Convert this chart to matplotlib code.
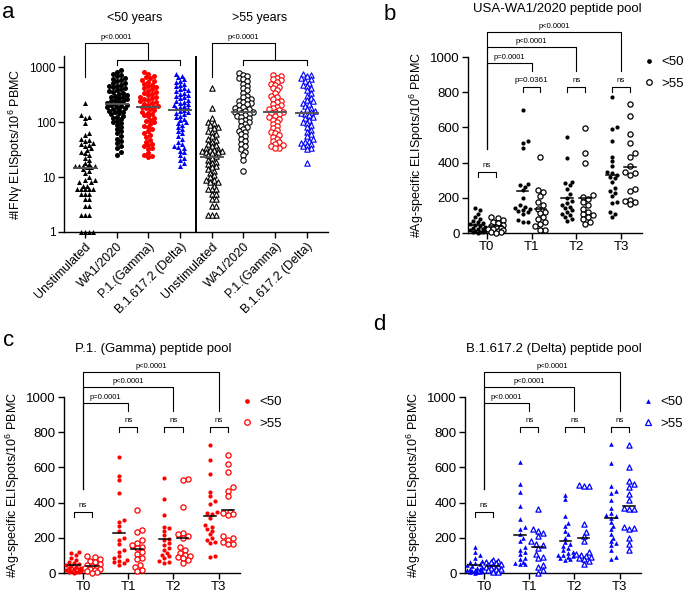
import numpy as np
import matplotlib
matplotlib.use("Agg")
import matplotlib.pyplot as plt
from matplotlib.lines import Line2D
from matplotlib.ticker import NullLocator

plt.rcParams["font.family"] = ["Liberation Sans", "DejaVu Sans"]
plt.rcParams["mathtext.fontset"] = "custom"
plt.rcParams["mathtext.rm"] = "Liberation Sans"
plt.rcParams["axes.linewidth"] = 1.0

# ---- panel a data (IFNg ELISpots / 10^6 PBMC, log scale) ----
cats_a = ["Unstimulated", "WA1/2020", "P.1.(Gamma)", "B.1.617.2 (Delta)"]
unstim_lt50 = [219, 134, 125, 120, 95, 62, 58, 50, 47, 45, 41, 40, 38, 36, 33, 31, 29, 27, 25, 22,
               20, 18, 17, 16, 16, 16, 16, 15, 15, 14, 13, 12, 10, 9, 9, 8, 8, 7, 7, 6, 6, 6, 6, 6,
               5, 5, 5, 4, 4, 3, 3, 2, 2, 2, 1, 1, 1, 1]
wa_lt50 = [880, 820, 760, 720, 690, 640, 610, 580, 550, 520, 505, 480, 460, 445, 430, 410, 395, 380,
           365, 350, 340, 325, 310, 300, 290, 282, 270, 262, 255, 245, 238, 230, 222, 215, 208, 200,
           195, 190, 186, 180, 174, 168, 160, 155, 150, 143, 138, 130, 124, 118, 112, 105, 100, 94,
           88, 80, 74, 68, 62, 56, 50, 45, 41, 37, 33, 28, 25]
p1_lt50 = [800, 760, 700, 660, 620, 580, 550, 530, 500, 470, 450, 430, 410, 390, 370, 355, 340, 320,
           305, 290, 280, 270, 258, 248, 240, 230, 222, 212, 205, 198, 190, 184, 178, 170, 162, 155,
           148, 140, 133, 126, 118, 110, 104, 98, 92, 86, 80, 74, 68, 62, 58, 54, 48, 44, 40, 38, 36,
           34, 32, 27, 25, 24, 23]
delta_lt50 = [760, 700, 650, 600, 560, 530, 500, 470, 450, 420, 400, 380, 360, 340, 325, 310, 295,
              280, 268, 255, 245, 235, 225, 215, 205, 198, 190, 183, 176, 168, 160, 152, 145, 138,
              130, 122, 115, 108, 100, 94, 88, 80, 74, 68, 62, 56, 50, 44, 40, 37, 35, 33, 30, 28,
              25, 22, 20, 18, 16]
unstim_gt55 = [410, 177, 116, 101, 95, 88, 80, 77, 70, 67, 60, 55, 50, 47, 44, 40, 38, 36, 34, 32,
               31, 31, 30, 30, 29, 28, 27, 25, 24, 22, 20, 19, 18, 17, 16, 15, 14, 13, 12, 11, 10,
               9, 9, 8, 8, 7, 6, 6, 6, 5, 5, 4, 4, 3, 3, 2, 2, 2]
wa_gt55 = [780, 720, 680, 640, 600, 560, 500, 460, 420, 380, 340, 300, 280, 260, 250, 240, 230, 220,
           210, 200, 190, 180, 175, 168, 160, 155, 150, 145, 140, 134, 128, 122, 116, 110, 104, 98,
           92, 86, 80, 75, 70, 65, 60, 55, 50, 45, 40, 36, 32, 29, 25, 20, 13]
p1_gt55 = [720, 680, 640, 600, 570, 540, 500, 470, 440, 410, 380, 330, 300, 280, 260, 245, 230, 215,
           200, 190, 180, 170, 162, 155, 150, 145, 138, 130, 122, 115, 108, 100, 92, 85, 78, 72, 66,
           62, 58, 54, 50, 46, 43, 40, 38, 36, 34, 33]
delta_gt55 = [760, 720, 680, 640, 600, 560, 520, 480, 450, 420, 380, 340, 300, 275, 255, 240, 225,
              210, 195, 182, 170, 160, 152, 146, 140, 132, 125, 118, 110, 102, 95, 88, 80, 72, 66,
              60, 55, 50, 46, 44, 42, 40, 38, 36, 34, 32, 18]

# ---- panels b-d data (Ag-specific ELISpots / 10^6 PBMC) ----
times = ["T0", "T1", "T2", "T3"]
wa_t_lt50 = [
    [140, 130, 110, 90, 80, 70, 60, 55, 50, 45, 40, 35, 30, 25, 20, 15, 12, 10, 8, 5, 3, 2],
    [697, 520, 511, 485, 281, 270, 262, 243, 200, 158, 150, 140, 135, 130, 125, 120, 110, 72, 65, 60],
    [545, 425, 290, 285, 270, 250, 220, 200, 180, 170, 160, 150, 140, 130, 120, 110, 100, 90, 80, 70],
    [771, 600, 590, 524, 434, 410, 380, 345, 339, 330, 320, 310, 290, 253, 240, 230, 210, 177, 170,
     120, 110, 91],
]
wa_t_gt55 = [
    [90, 85, 75, 65, 55, 45, 40, 35, 30, 25, 20, 15, 10, 5, 3, 2],
    [433, 243, 234, 209, 177, 158, 139, 120, 115, 91, 80, 63, 53, 38, 19, 15],
    [596, 453, 396, 215, 205, 196, 177, 160, 139, 120, 110, 100, 91, 80, 63, 53],
    [735, 667, 564, 510, 453, 430, 380, 349, 340, 330, 250, 240, 190, 180, 175, 164],
]
p1_t_lt50 = [
    [120, 115, 100, 85, 75, 65, 55, 50, 45, 40, 35, 30, 28, 25, 20, 15, 12, 10, 8, 5, 3, 2],
    [661, 552, 528, 455, 299, 288, 265, 240, 200, 190, 162, 128, 120, 95, 86, 75, 70, 62, 57, 48],
    [539, 423, 328, 261, 253, 238, 215, 194, 190, 171, 160, 143, 133, 114, 105, 95, 86, 67, 57, 60],
    [730, 642, 562, 461, 438, 410, 394, 349, 340, 333, 314, 270, 261, 250, 238, 220, 200, 190, 177,
     170, 95, 90],
]
p1_t_gt55 = [
    [95, 90, 80, 70, 60, 50, 45, 40, 35, 30, 25, 20, 15, 10, 5, 2],
    [356, 242, 232, 185, 170, 158, 150, 143, 120, 110, 86, 80, 48, 36, 19, 10],
    [535, 530, 375, 225, 219, 210, 200, 147, 133, 114, 100, 95, 90, 86, 75, 57],
    [672, 619, 575, 486, 467, 438, 345, 340, 333, 330, 213, 200, 190, 175, 165, 162],
]
de_t_lt50 = [
    [147, 120, 100, 85, 70, 60, 55, 50, 45, 40, 35, 30, 25, 20, 18, 15, 12, 10, 8, 5, 3, 2],
    [629, 505, 461, 379, 309, 261, 248, 219, 200, 180, 147, 133, 120, 110, 86, 80, 60, 55, 51, 50],
    [444, 421, 324, 286, 267, 238, 219, 200, 177, 162, 152, 143, 128, 120, 114, 105, 100, 95, 90, 86,
     82, 76],
    [733, 623, 495, 467, 457, 415, 368, 343, 330, 324, 314, 290, 267, 248, 219, 200, 181, 170, 158,
     133, 90, 80],
]
de_t_gt55 = [
    [75, 70, 65, 60, 55, 50, 45, 40, 38, 35, 30, 25, 20, 15, 8, 3],
    [364, 248, 238, 228, 210, 181, 166, 158, 140, 110, 90, 86, 48, 32, 19, 2],
    [500, 497, 493, 276, 234, 210, 181, 120, 110, 100, 95, 90, 85, 80, 67, 51],
    [730, 604, 520, 505, 490, 451, 413, 370, 365, 362, 261, 255, 250, 200, 162, 128],
]
pvals_b = ["p=0.0001", "p<0.0001", "p<0.0001"]
pvals_c = ["p=0.0001", "p<0.0001", "p<0.0001"]
pvals_d = ["p<0.0001", "p<0.0001", "p<0.0001"]
pair_b = ["ns", "p=0.0361", "ns", "ns"]
pair_c = ["ns", "ns", "ns", "ns"]
pair_d = ["ns", "ns", "ns", "ns"]

W, H = 685, 593
fig = plt.figure(figsize=(W / 100, H / 100), dpi=100)


def box(l, t, r, b):
    return [l / W, 1 - b / H, (r - l) / W, (b - t) / H]


def swarm(ax, x0, vals, d, step, wmax):
    # beeswarm in pixel space, spread limited to +-wmax px (overlap allowed past that)
    vals = np.asarray(vals, float)
    pix = ax.transData.transform(np.column_stack([np.full(len(vals), x0), vals]))
    cx = pix[0, 0]
    placed = []
    out = np.zeros(len(vals))
    for i in np.argsort(vals):
        y = pix[i, 1]
        best, best_d = 0.0, -1.0
        k = 0
        while True:
            off = ((k + 1) // 2) * step * (1 if k % 2 else -1)
            if abs(off) > wmax:
                off = best
                break
            md = min([np.hypot(px - cx - off, py - y) for px, py in placed], default=1e9)
            if md >= d:
                break
            if md > best_d:
                best, best_d = off, md
            k += 1
        placed.append((cx + off, y))
        out[i] = cx + off
    return ax.transData.inverted().transform(np.column_stack([out, pix[:, 1]]))[:, 0]


def style(ax):
    for s in ["top", "right"]:
        ax.spines[s].set_visible(False)
    ax.tick_params(width=1.0, length=4, pad=2)


def bracket(ax, pts):
    xs, ys = zip(*pts)
    ax.plot(xs, ys, color="black", lw=0.8, clip_on=False)


# ================= panel a =================
ax = fig.add_axes(box(64, 56, 328, 232))
style(ax)
ax.set_yscale("log")
ax.set_ylim(1, 1585)
ax.set_xlim(-0.66, 7.67)
ax.set_yticks([1, 10, 100, 1000])
ax.set_yticklabels(["1", "10", "100", "1000"], fontsize=8.5)
ax.yaxis.set_minor_locator(NullLocator())
ax.set_xticks(range(8))
ax.set_xticklabels(cats_a * 2, rotation=45, ha="right", rotation_mode="anchor", fontsize=9)
ax.set_ylabel("#IFNγ ELISpots/10$^{6}$ PBMC", fontsize=9, labelpad=3)

groups_a = [
    (unstim_lt50, "^", "black", True), (wa_lt50, "o", "black", True),
    (p1_lt50, "o", "red", True), (delta_lt50, "^", "blue", True),
    (unstim_gt55, "^", "black", False), (wa_gt55, "o", "black", False),
    (p1_gt55, "o", "red", False), (delta_gt55, "^", "blue", False),
]
for i, (v, m, c, filled) in enumerate(groups_a):
    xs = swarm(ax, i, v, 3.8, 2.0, 11)
    if filled:
        ax.scatter(xs, v, marker=m, s=13, color=c, lw=0, clip_on=False, zorder=3)
    else:
        ax.scatter(xs, v, marker=m, s=15, facecolor="white", edgecolor=c, lw=0.8,
                   clip_on=False, zorder=3)
    med = np.median(v)
    ax.plot([i - 0.35, i + 0.35], [med, med], color="#555555", lw=1.4, zorder=4)

ax.plot([3.5, 3.5], [1, 1585], color="black", lw=1.4)
for g in [0, 4]:
    bracket(ax, [(g, 657), (g, 2730), (g + 2, 2730), (g + 2, 1340)])
    bracket(ax, [(g + 1, 1087), (g + 1, 1340), (g + 3, 1340), (g + 3, 1087)])
    ax.text(g + 1, 2950, "p<0.0001", ha="center", va="bottom", fontsize=5.5)

fig.text(135 / W, 1 - 18 / H, "<50 years", ha="center", va="center", fontsize=9)
fig.text(260 / W, 1 - 18 / H, ">55 years", ha="center", va="center", fontsize=9)


# ================= panels b-d =================
def time_panel(rect, lt, gt, color, filled_marker, title, pv, pair):
    ax = fig.add_axes(box(*rect))
    style(ax)
    ax.set_ylim(0, 1000)
    ax.set_xlim(-0.42, 3.47)
    ax.set_yticks([0, 200, 400, 600, 800, 1000])
    ax.tick_params(axis="y", labelsize=9.5)
    ax.set_xticks(range(4))
    ax.set_xticklabels(times, fontsize=9.5)
    ax.set_ylabel("#Ag-specific ELISpots/10$^{6}$ PBMC", fontsize=9, labelpad=3)
    s_f = 9 if filled_marker == "o" else 11
    for i in range(4):
        xa = swarm(ax, i - 0.2, lt[i], 4.0, 2.5, 7.5)
        xb = swarm(ax, i + 0.2, gt[i], 4.8, 2.5, 7.5)
        ax.scatter(xa, lt[i], marker=filled_marker, s=s_f, color=color, lw=0,
                   clip_on=False, zorder=3)
        ax.scatter(xb, gt[i], marker=filled_marker, s=14, facecolor="white", edgecolor=color,
                   lw=0.9, clip_on=False, zorder=3)
        for xc, v in [(i - 0.2, lt[i]), (i + 0.2, gt[i])]:
            mu = np.mean(v)
            ax.plot([xc - 0.13, xc + 0.13], [mu, mu], color="black", lw=1.1, zorder=4)
    # comparisons vs T0
    tops = [964, 1055, 1143]
    for k, t in enumerate(tops):
        bracket(ax, [(0, 477), (0, t), (k + 1, t), (k + 1, 922)])
        ax.text((k + 1) / 2, t + 12, pv[k], ha="center", va="bottom", fontsize=5.5)
    # <50 vs >55 within each time point
    for i in range(4):
        hb = 348 if i == 0 else 827
        bracket(ax, [(i - 0.2, hb - 28), (i - 0.2, hb), (i + 0.2, hb), (i + 0.2, hb - 28)])
        ax.text(i, hb + 18, pair[i], ha="center", va="bottom", fontsize=5.8)
    fig.text((rect[0] + 89) / W, 1 - (rect[1] - 48) / H, title, ha="center", va="center",
             fontsize=9.5)
    h = [Line2D([], [], ls="", marker=filled_marker, ms=3.4, color=color, mew=0),
         Line2D([], [], ls="", marker=filled_marker, ms=4.0, mfc="white", mec=color, mew=0.9)]
    ax.legend(h, ["<50", ">55"], loc="upper left", frameon=False, fontsize=9.5,
              bbox_to_anchor=(rect[2] / W, 1 - (rect[1] - 1) / H),
              bbox_transform=fig.transFigure, handlelength=1.0, handletextpad=0.5,
              labelspacing=0.7, borderpad=0, borderaxespad=0)
    return ax


time_panel((468, 57, 642, 233), wa_t_lt50, wa_t_gt55, "black", "o",
           "USA-WA1/2020 peptide pool", pvals_b, pair_b)
time_panel((64, 397, 240, 573), p1_t_lt50, p1_t_gt55, "red", "o",
           "P.1. (Gamma) peptide pool", pvals_c, pair_c)
time_panel((465, 397, 641, 573), de_t_lt50, de_t_gt55, "blue", "^",
           "B.1.617.2 (Delta) peptide pool", pvals_d, pair_d)

for lab, x, y in [("a", 8, 12), ("b", 390, 15), ("c", 9, 340), ("d", 379, 324)]:
    fig.text(x / W, 1 - y / H, lab, ha="center", va="center", fontsize=16)

fig.savefig("out.png", dpi=100)
